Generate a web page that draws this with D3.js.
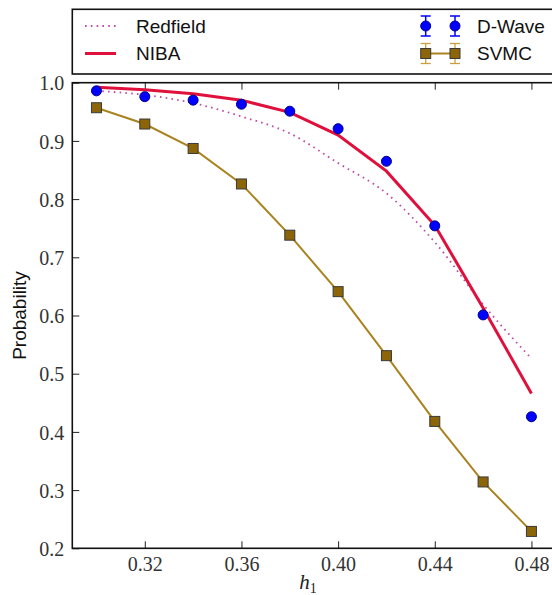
<!DOCTYPE html>
<html>
<head>
<meta charset="utf-8">
<script src="https://cdn.jsdelivr.net/npm/d3@7"></script>
<style>
  body { margin: 0; background: #fff; }
  .tick text { font-family: "Liberation Serif", serif; font-size: 20px; fill: #333; }
  .tick line { stroke: #222; stroke-width: 1; }
</style>
</head>
<body>
<script>
// values
var h1 = [0.30, 0.32, 0.34, 0.36, 0.38, 0.40, 0.42, 0.44, 0.46, 0.48];
var dwave = [0.986, 0.976, 0.970, 0.963, 0.951, 0.921, 0.865, 0.754, 0.601, 0.426];
var svmc = [0.957, 0.929, 0.887, 0.826, 0.738, 0.641, 0.531, 0.418, 0.314, 0.229];
var niba = [0.992, 0.988, 0.981, 0.970, 0.949, 0.910, 0.848, 0.755, 0.613, 0.466];
var redfield = [0.986, 0.979, 0.965, 0.942, 0.913, 0.862, 0.810, 0.726, 0.619, 0.526];
var xTicks = [0.32, 0.36, 0.40, 0.44, 0.48];
var yTicks = [0.2, 0.3, 0.4, 0.5, 0.6, 0.7, 0.8, 0.9, 1.0];
var legendNames = ["Redfield", "NIBA", "D-Wave", "SVMC"];

var W = 552, H = 595;
var pLeft = 72.3, pRight = 555.6, pTop = 82.7, pBottom = 548.3;

var svg = d3.select("body").append("svg")
  .attr("width", W)
  .attr("height", H);

var x = d3.scaleLinear().domain([0.29, 0.49]).range([pLeft, pRight]);
var y = d3.scaleLinear().domain([0.2, 1.0]).range([pBottom, pTop]);

// axes, ticks point inward
var xAxis = svg.append("g")
  .attr("transform", "translate(0," + pBottom + ")")
  .call(d3.axisBottom(x).tickValues(xTicks).tickSize(-7).tickPadding(9).tickFormat(d3.format(".2f")));
xAxis.select(".domain").remove();

var xTop = svg.append("g")
  .attr("transform", "translate(0," + pTop + ")")
  .call(d3.axisTop(x).tickValues(xTicks).tickSize(-7).tickFormat(""));
xTop.select(".domain").remove();

var yAxis = svg.append("g")
  .attr("transform", "translate(" + pLeft + ",0)")
  .call(d3.axisLeft(y).tickValues(yTicks).tickSize(-7).tickPadding(8).tickFormat(d3.format(".1f")));
yAxis.select(".domain").remove();
yAxis.selectAll("text").attr("dy", "0.36em");

// frame
svg.append("rect")
  .attr("x", pLeft).attr("y", pTop)
  .attr("width", pRight - pLeft).attr("height", pBottom - pTop)
  .attr("fill", "none").attr("stroke", "#111").attr("stroke-width", 1.6);

svg.append("text")
  .attr("transform", "translate(26," + (pTop + pBottom) / 2 + ")rotate(-90)")
  .attr("text-anchor", "middle")
  .attr("font-family", "Liberation Sans, Arial, sans-serif")
  .attr("font-size", 19)
  .attr("fill", "#111")
  .text("Probability");

var xl = svg.append("text")
  .attr("x", (pLeft + pRight) / 2 - 6)
  .attr("y", 589)
  .attr("text-anchor", "middle")
  .attr("font-family", "Liberation Serif, serif")
  .attr("fill", "#222");
xl.append("tspan").attr("font-style", "italic").attr("font-size", 21).text("h");
xl.append("tspan").attr("font-size", 14).attr("dy", 4).text("1");

function pts(vals) {
  return vals.map(function (v, i) { return [h1[i], v]; });
}

var line = d3.line()
  .x(function (d) { return x(d[0]); })
  .y(function (d) { return y(d[1]); });

var smooth = d3.line()
  .curve(d3.curveMonotoneX)
  .x(function (d) { return x(d[0]); })
  .y(function (d) { return y(d[1]); });

// Redfield dotted
svg.append("path")
  .datum(pts(redfield))
  .attr("d", smooth)
  .attr("fill", "none")
  .attr("stroke", "#c04aa6")
  .attr("stroke-width", 1.8)
  .attr("stroke-dasharray", "1.6,4.2");

// NIBA
svg.append("path")
  .datum(pts(niba))
  .attr("d", line)
  .attr("fill", "none")
  .attr("stroke", "#e0103c")
  .attr("stroke-width", 3);

// SVMC line + squares
svg.append("path")
  .datum(pts(svmc))
  .attr("d", line)
  .attr("fill", "none")
  .attr("stroke", "#a8831f")
  .attr("stroke-width", 2);

svg.selectAll(".sq")
  .data(pts(svmc))
  .enter().append("rect")
  .attr("class", "sq")
  .attr("x", function (d) { return x(d[0]) - 5; })
  .attr("y", function (d) { return y(d[1]) - 5; })
  .attr("width", 10).attr("height", 10)
  .attr("fill", "#8b6508")
  .attr("stroke", "#3a3a3a")
  .attr("stroke-width", 1);

// D-Wave points
svg.selectAll(".dw")
  .data(pts(dwave))
  .enter().append("circle")
  .attr("class", "dw")
  .attr("cx", function (d) { return x(d[0]); })
  .attr("cy", function (d) { return y(d[1]); })
  .attr("r", 5)
  .attr("fill", "#0000ff")
  .attr("stroke", "#00008b")
  .attr("stroke-width", 1);

// legend
var lg = svg.append("g");
lg.append("rect")
  .attr("x", pLeft).attr("y", 9.3)
  .attr("width", pRight - pLeft).attr("height", 64.7)
  .attr("fill", "#fff").attr("stroke", "#111").attr("stroke-width", 1.6);

var rowY = [26, 53.5];

lg.append("line")
  .attr("x1", 85).attr("x2", 116).attr("y1", rowY[0]).attr("y2", rowY[0])
  .attr("stroke", "#c04aa6").attr("stroke-width", 1.8).attr("stroke-dasharray", "1.6,4.2");
lg.append("line")
  .attr("x1", 85).attr("x2", 116).attr("y1", rowY[1]).attr("y2", rowY[1])
  .attr("stroke", "#e0103c").attr("stroke-width", 3);

var mx = [425.7, 455];

// D-Wave legend markers with error bars
mx.forEach(function (cx) {
  lg.append("line").attr("x1", cx).attr("x2", cx).attr("y1", rowY[0] - 10).attr("y2", rowY[0] + 10)
    .attr("stroke", "#0000ff").attr("stroke-width", 1.5);
  [-10, 10].forEach(function (o) {
    lg.append("line").attr("x1", cx - 5).attr("x2", cx + 5).attr("y1", rowY[0] + o).attr("y2", rowY[0] + o)
      .attr("stroke", "#0000ff").attr("stroke-width", 1.5);
  });
  lg.append("circle").attr("cx", cx).attr("cy", rowY[0]).attr("r", 5)
    .attr("fill", "#0000ff").attr("stroke", "#00008b").attr("stroke-width", 1);
});

// SVMC legend
lg.append("line").attr("x1", mx[0]).attr("x2", mx[1]).attr("y1", rowY[1]).attr("y2", rowY[1])
  .attr("stroke", "#a8831f").attr("stroke-width", 2);
mx.forEach(function (cx) {
  lg.append("line").attr("x1", cx).attr("x2", cx).attr("y1", rowY[1] - 10).attr("y2", rowY[1] + 10)
    .attr("stroke", "#c8a040").attr("stroke-width", 1.3);
  [-10, 10].forEach(function (o) {
    lg.append("line").attr("x1", cx - 5).attr("x2", cx + 5).attr("y1", rowY[1] + o).attr("y2", rowY[1] + o)
      .attr("stroke", "#c8a040").attr("stroke-width", 1.3);
  });
  lg.append("rect").attr("x", cx - 5).attr("y", rowY[1] - 5).attr("width", 10).attr("height", 10)
    .attr("fill", "#8b6508").attr("stroke", "#3a3a3a").attr("stroke-width", 1);
});

var labX = [136, 136, 477, 477];
var labY = [rowY[0], rowY[1], rowY[0], rowY[1]];
legendNames.forEach(function (name, i) {
  lg.append("text")
    .attr("x", labX[i]).attr("y", labY[i])
    .attr("dy", "0.36em")
    .attr("font-family", "Liberation Sans, Arial, sans-serif")
    .attr("font-size", 19)
    .attr("fill", "#111")
    .text(name);
});
</script>
</body>
</html>
